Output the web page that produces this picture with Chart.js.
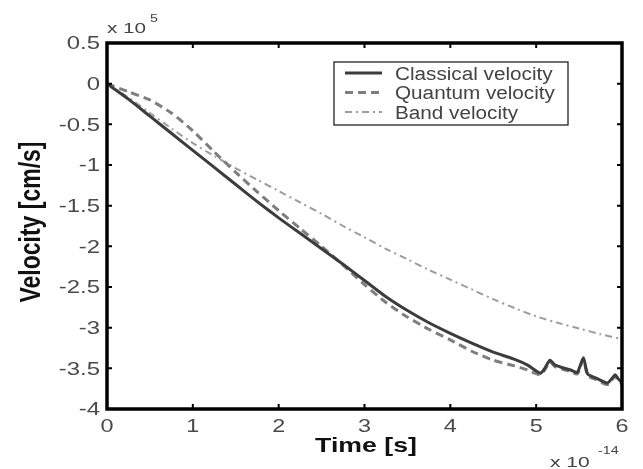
<!DOCTYPE html>
<html>
<head>
<meta charset="utf-8">
<script src="https://cdn.jsdelivr.net/npm/chart.js@4"></script>
<style>
  html, body { margin: 0; padding: 0; background: #fff; }
  #wrap { width: 643px; height: 469px; position: relative; }
</style>
</head>
<body>
<div id="wrap"><canvas id="chart"></canvas></div>
<script>
// time in units of 1e-14 s, velocity in units of 1e5 cm/s
const timeClassical = [0, 0.25, 0.5, 0.75, 1.0, 1.25, 1.5, 1.75, 2.0, 2.25, 2.5, 2.75, 3.0, 3.25, 3.5, 3.75, 4.0, 4.25, 4.5, 4.75, 4.9, 5.05, 5.1, 5.16, 5.22, 5.3, 5.4, 5.48, 5.55, 5.6, 5.7, 5.83, 5.92, 5.95, 6.0];
const velClassical = [0, -0.19, -0.40, -0.61, -0.82, -1.03, -1.24, -1.45, -1.65, -1.84, -2.03, -2.22, -2.42, -2.62, -2.79, -2.94, -3.07, -3.19, -3.30, -3.39, -3.46, -3.56, -3.50, -3.40, -3.46, -3.49, -3.52, -3.55, -3.37, -3.57, -3.62, -3.68, -3.58, -3.62, -3.68];

const timeQuantum = [0, 0.25, 0.5, 0.75, 1.0, 1.25, 1.5, 1.75, 2.0, 2.25, 2.5, 2.75, 3.0, 3.25, 3.5, 3.75, 4.0, 4.25, 4.5, 4.75, 4.9, 5.05, 5.1, 5.16, 5.22, 5.3, 5.4, 5.48, 5.55, 5.6, 5.7, 5.83, 5.92, 5.95, 6.0];
const velQuantum = [0, -0.10, -0.20, -0.36, -0.58, -0.84, -1.09, -1.33, -1.56, -1.78, -2.00, -2.23, -2.47, -2.69, -2.87, -3.02, -3.15, -3.29, -3.40, -3.47, -3.52, -3.58, -3.52, -3.42, -3.48, -3.51, -3.54, -3.57, -3.39, -3.59, -3.64, -3.70, -3.60, -3.64, -3.70];

const timeBand = [0, 0.25, 0.5, 0.75, 1.0, 1.25, 1.5, 1.75, 2.0, 2.25, 2.5, 2.75, 3.0, 3.25, 3.5, 3.75, 4.0, 4.25, 4.5, 4.75, 5.0, 5.25, 5.5, 5.75, 6.0];
const velBand = [0, -0.17, -0.36, -0.55, -0.73, -0.89, -1.04, -1.18, -1.32, -1.46, -1.60, -1.75, -1.89, -2.03, -2.16, -2.29, -2.41, -2.53, -2.65, -2.76, -2.86, -2.94, -3.01, -3.08, -3.14];

const seriesNames = ['Classical velocity', 'Quantum velocity', 'Band velocity'];
const xTicks = [0, 1, 2, 3, 4, 5, 6];
const yTicks = [0.5, 0, -0.5, -1, -1.5, -2, -2.5, -3, -3.5, -4];

const FONT = '"Liberation Sans", Arial, sans-serif';

function pts(xs, ys) {
    return xs.map((x, i) => ({ x: x, y: ys[i] }));
}

// text in the reference is stretched sideways, so draw it with a horizontal scale
function wideText(ctx, text, x, y, font, sx, align, color) {
    ctx.save();
    ctx.font = font;
    ctx.fillStyle = color;
    ctx.textAlign = 'left';
    ctx.textBaseline = 'alphabetic';
    const w = ctx.measureText(text).width * sx;
    let left = x;
    if (align === 'center') left = x - w / 2;
    else if (align === 'right') left = x - w;
    ctx.translate(left, y);
    ctx.scale(sx, 1);
    ctx.fillText(text, 0, 0);
    ctx.restore();
}

// MATLAB-like box, inward ticks, labels, exponents and inset legend
const matlabFrame = {
    id: 'matlabFrame',
    afterDatasetsDraw(chart) {
        const ctx = chart.ctx;
        const a = chart.chartArea;
        const sx = chart.scales.x;
        const sy = chart.scales.y;
        ctx.save();
        ctx.strokeStyle = '#000';
        ctx.lineWidth = 2;
        const tl = 5;
        xTicks.forEach(v => {
            const px = sx.getPixelForValue(v);
            ctx.beginPath();
            ctx.moveTo(px, a.bottom); ctx.lineTo(px, a.bottom - tl);
            ctx.moveTo(px, a.top); ctx.lineTo(px, a.top + tl);
            ctx.stroke();
            wideText(ctx, String(v), px, 432, '18px ' + FONT, 1.3, 'center', '#4a4a4a');
        });
        yTicks.forEach(v => {
            const py = sy.getPixelForValue(v);
            ctx.beginPath();
            ctx.moveTo(a.left, py); ctx.lineTo(a.left + tl, py);
            ctx.moveTo(a.right, py); ctx.lineTo(a.right - tl, py);
            ctx.stroke();
            wideText(ctx, String(v), 100, py + 6.4, '18px ' + FONT, 1.33, 'right', '#4a4a4a');
        });
        ctx.lineWidth = 3.5;
        ctx.strokeRect(a.left, a.top, a.right - a.left, a.bottom - a.top);

        // axis titles
        wideText(ctx, 'Time [s]', 366, 452, 'bold 21px ' + FONT, 1.27, 'center', '#111');
        ctx.save();
        ctx.translate(40, 222);
        ctx.rotate(-Math.PI / 2);
        ctx.scale(1, 1.3);
        ctx.font = 'bold 23px ' + FONT;
        ctx.fillStyle = '#111';
        ctx.textAlign = 'center';
        ctx.textBaseline = 'alphabetic';
        ctx.fillText('Velocity [cm/s]', 0, 0);
        ctx.restore();

        // exponent labels
        wideText(ctx, 'x 10', a.left, 33, '15px ' + FONT, 1.38, 'left', '#444');
        wideText(ctx, '5', 150, 22, '11px ' + FONT, 1.3, 'left', '#444');
        wideText(ctx, 'x 10', 550, 467, '15px ' + FONT, 1.4, 'left', '#444');
        wideText(ctx, '-14', 598, 454, '11px ' + FONT, 1.3, 'left', '#444');

        // legend
        const bx = 334, by = 62, bw = 234, bh = 63;
        ctx.fillStyle = '#fff';
        ctx.fillRect(bx, by, bw, bh);
        ctx.lineWidth = 1.3;
        ctx.strokeStyle = '#222';
        ctx.strokeRect(bx, by, bw, bh);
        chart.data.datasets.forEach((ds, i) => {
            const y = by + 11 + i * 19.5;
            ctx.save();
            ctx.strokeStyle = ds.borderColor;
            ctx.lineWidth = ds.borderWidth;
            ctx.setLineDash(ds.borderDash || []);
            ctx.beginPath();
            ctx.moveTo(bx + 11, y);
            ctx.lineTo(bx + 48, y);
            ctx.stroke();
            ctx.restore();
            wideText(ctx, ds.label, bx + 61, y + 6.5, '18px ' + FONT, 1.15, 'left', '#444');
        });
        ctx.restore();
    }
};

new Chart(document.getElementById('chart'), {
    type: 'line',
    data: {
        datasets: [
            {
                label: seriesNames[0],
                data: pts(timeClassical, velClassical),
                borderColor: '#3c3c3c',
                borderWidth: 3,
                pointRadius: 0,
                tension: 0.2
            },
            {
                label: seriesNames[1],
                data: pts(timeQuantum, velQuantum),
                borderColor: '#7e7e7e',
                borderWidth: 3,
                borderDash: [8, 5],
                pointRadius: 0,
                tension: 0.2
            },
            {
                label: seriesNames[2],
                data: pts(timeBand, velBand),
                borderColor: '#9c9c9c',
                borderWidth: 2,
                borderDash: [7, 4, 2, 4],
                pointRadius: 0,
                tension: 0.3
            }
        ]
    },
    options: {
        responsive: true,
        maintainAspectRatio: false,
        animation: false,
        layout: { padding: { top: 43, right: 21, left: 0, bottom: 0 } },
        scales: {
            x: {
                type: 'linear',
                min: 0,
                max: 6,
                afterFit: s => { s.height = 60; },
                grid: { display: false, drawTicks: false },
                border: { display: false },
                ticks: { display: false }
            },
            y: {
                type: 'linear',
                min: -4,
                max: 0.5,
                afterFit: s => { s.width = 107; },
                grid: { display: false, drawTicks: false },
                border: { display: false },
                ticks: { display: false }
            }
        },
        plugins: {
            legend: { display: false },
            tooltip: { enabled: false }
        }
    },
    plugins: [matlabFrame]
});
</script>
</body>
</html>
